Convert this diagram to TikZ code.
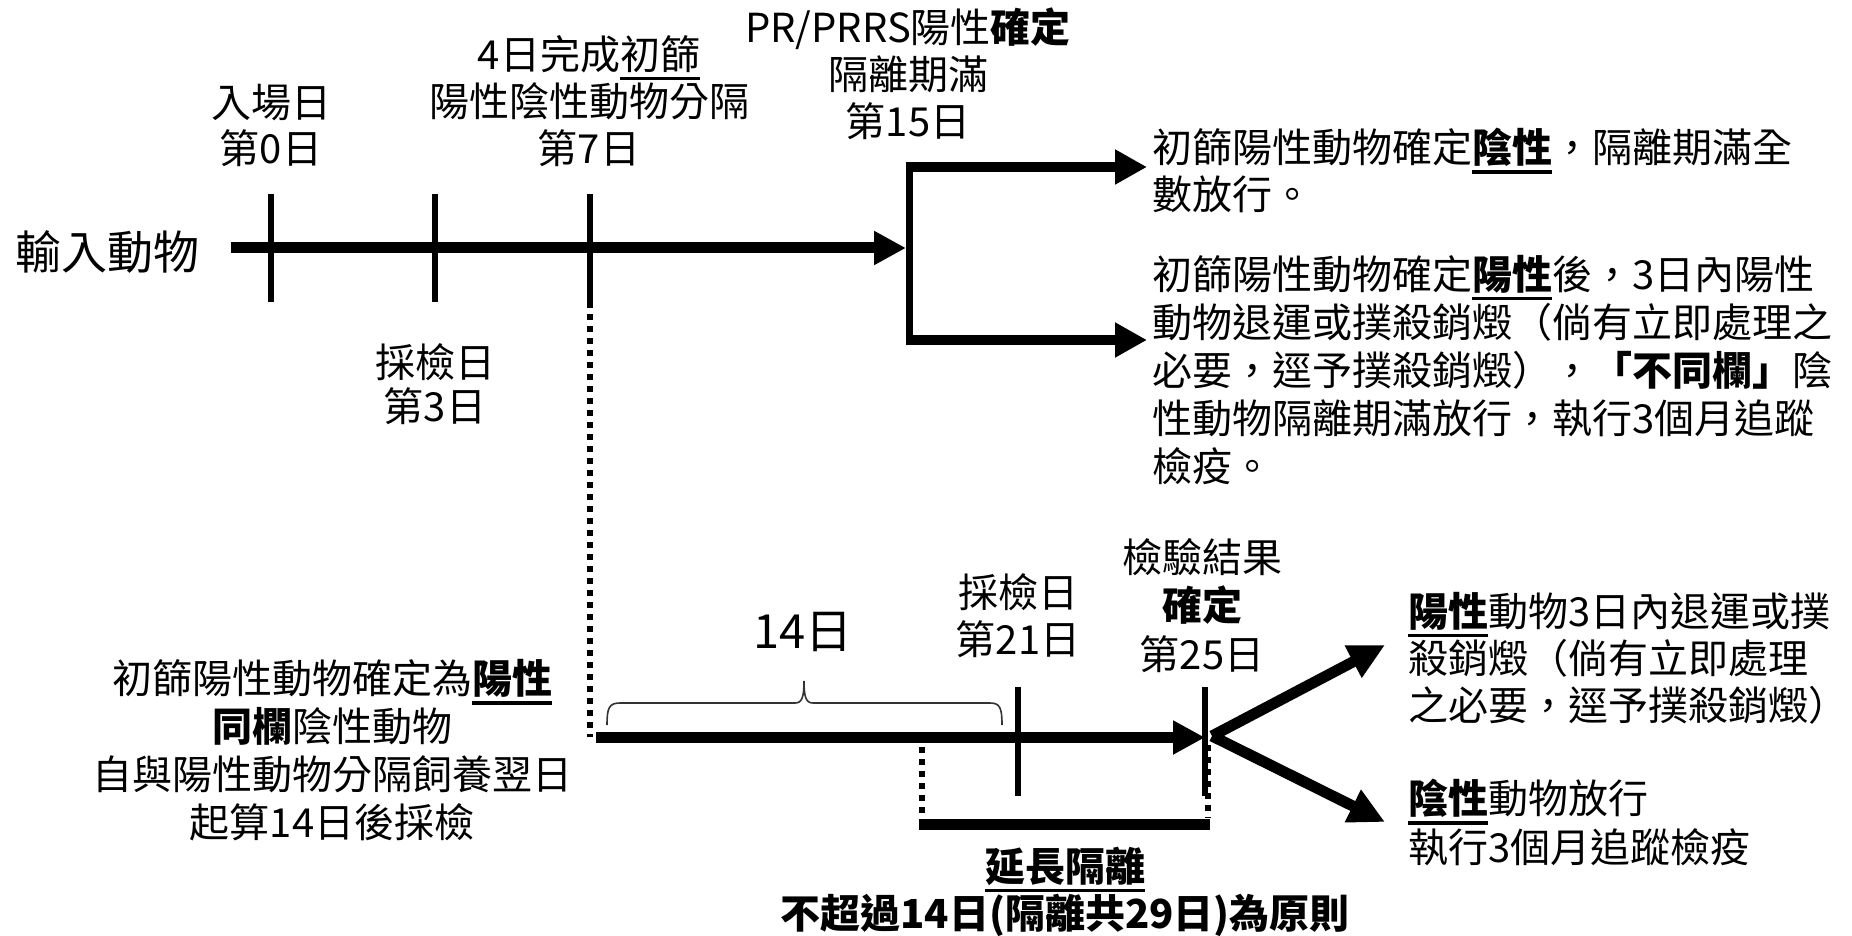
\documentclass[tikz,border=0pt]{standalone}
\usepackage{fontspec}
\setmainfont{Noto Sans CJK TC}
\usetikzlibrary{arrows.meta}
\newcommand{\undl}[1]{\leavevmode\setbox0=\hbox{#1}\rlap{\rule[-5.5pt]{\wd0}{1.8pt}}\box0}

\begin{document}
\begin{tikzpicture}[x=0.5pt,y=0.5pt,yscale=-1,
	lbl/.style={align=center,inner sep=0pt,font=\fontsize{20}{23.5}\selectfont},
	txt/.style={align=left,inner sep=0pt,anchor=west,font=\fontsize{20}{24}\selectfont},
	bar/.style={line width=5.5pt},
	tick/.style={line width=3pt},
	dots/.style={line width=2.8pt,dash pattern=on 2.8pt off 3.2pt},
	fat/.style={-{Triangle[length=16pt,width=16pt]}}]
	\useasboundingbox (0,0) rectangle (1852,936);
	% top timeline
	\node (inp) at (107,252) [lbl,font=\fontsize{23}{28}\selectfont] {輸入動物};
	\coordinate (a0) at (231,248);
	\coordinate (a1) at (906,248);
	\draw [bar,fat] (a0) -- (a1);
	\foreach \x in {271,435,590} \draw [tick] (\x,194) -- (\x,302);
	\node (day0) at (271,125) [lbl,font=\fontsize{20}{23}\selectfont] {入場日\\第0日};
	\node (day3) at (435,384) [lbl,font=\fontsize{20}{22}\selectfont] {採檢日\\第3日};
	\node (day7) at (589,101) [lbl] {4日完成\undl{初篩}\\陽性陰性動物分隔\\第7日};
	\node (day15) at (908,73.5) [lbl] {PR/PRRS陽性\textbf{確定}\\隔離期滿\\第15日};
	% fork to results
	\draw [line width=3.5pt] (909,162) -- (909,345);
	\coordinate (up) at (1147,167);
	\coordinate (dn) at (1147,340);
	\draw [line width=5pt,-{Triangle[length=16pt,width=16.5pt]}] (905.5,167) -- (up);
	\draw [line width=5pt,-{Triangle[length=16pt,width=16.5pt]}] (905.5,340) -- (dn);
	\node (resneg) at (1152,170.5) [txt,font=\fontsize{20}{23.5}\selectfont] {初篩陽性動物確定\undl{\textbf{陰性}}，隔離期滿全\\數放行。};
	\node (respos) at (1152,370) [txt] {初篩陽性動物確定\undl{\textbf{陽性}}後，3日內陽性\\動物退運或撲殺銷燬（倘有立即處理之\\必要，逕予撲殺銷燬），\textbf{「不同欄」}陰\\性動物隔離期滿放行，執行3個月追蹤\\檢疫。};
	% lower timeline
	\draw [dots] (590,302) -- (590,737);
	\coordinate (b0) at (596,737.5);
	\coordinate (b1) at (1205,737.5);
	\draw [bar,fat] (b0) -- (b1);
	\draw [tick] (1018,687) -- (1018,796);
	\draw [tick] (1205,687) -- (1205,796);
	\draw [dots] (922,747) -- (922,818);
	\draw [dots] (1208,745) -- (1208,818);
	\draw [bar] (919,824.5) -- (1210,824.5);
	\draw [line width=0.8pt,black!80] (607,725) .. controls (607,708) and (609,703) .. (620,703) -- (795,703) .. controls (802,703) and (804,697) .. (804,681) .. controls (804,697) and (806,703) .. (813,703) -- (990,703) .. controls (1000,703) and (1002,708) .. (1002,725);
	\node (span) at (803,632) [lbl,font=\fontsize{23.5}{28}\selectfont] {14日};
	\node (grp) at (332,750.5) [lbl,font=\fontsize{20}{24}\selectfont] {初篩陽性動物確定為\undl{\textbf{陽性}}\\\textbf{同欄}陰性動物\\自與陽性動物分隔飼養翌日\\起算14日後採檢};
	\node (day21) at (1018,615.5) [lbl] {採檢日\\第21日};
	\node (day25) at (1202,605.5) [lbl,font=\fontsize{20}{24.25}\selectfont] {檢驗結果\\\textbf{確定}\\第25日};
	\node (ext) at (1065,892) [lbl,font=\fontsize{20}{22}\selectfont] {\undl{\textbf{延長隔離}}\\\textbf{不超過14日(隔離共29日)為原則}};
	% branch after result
	\coordinate (br) at (1212,736);
	\coordinate (bpos) at (1385,645);
	\coordinate (bneg) at (1385,822);
	\draw [bar,-{Triangle[length=18pt,width=17pt]}] (br) -- (bpos);
	\draw [bar,-{Triangle[length=18pt,width=17pt]}] (br) -- (bneg);
	\node (pos) at (1408,658) [txt,font=\fontsize{20}{23.5}\selectfont] {\undl{\textbf{陽性}}動物3日內退運或撲\\殺銷燬（倘有立即處理\\之必要，逕予撲殺銷燬）};
	\node (neg) at (1408,822.5) [txt,font=\fontsize{20}{24.5}\selectfont] {\undl{\textbf{陰性}}動物放行\\執行3個月追蹤檢疫};
\end{tikzpicture}
\end{document}
